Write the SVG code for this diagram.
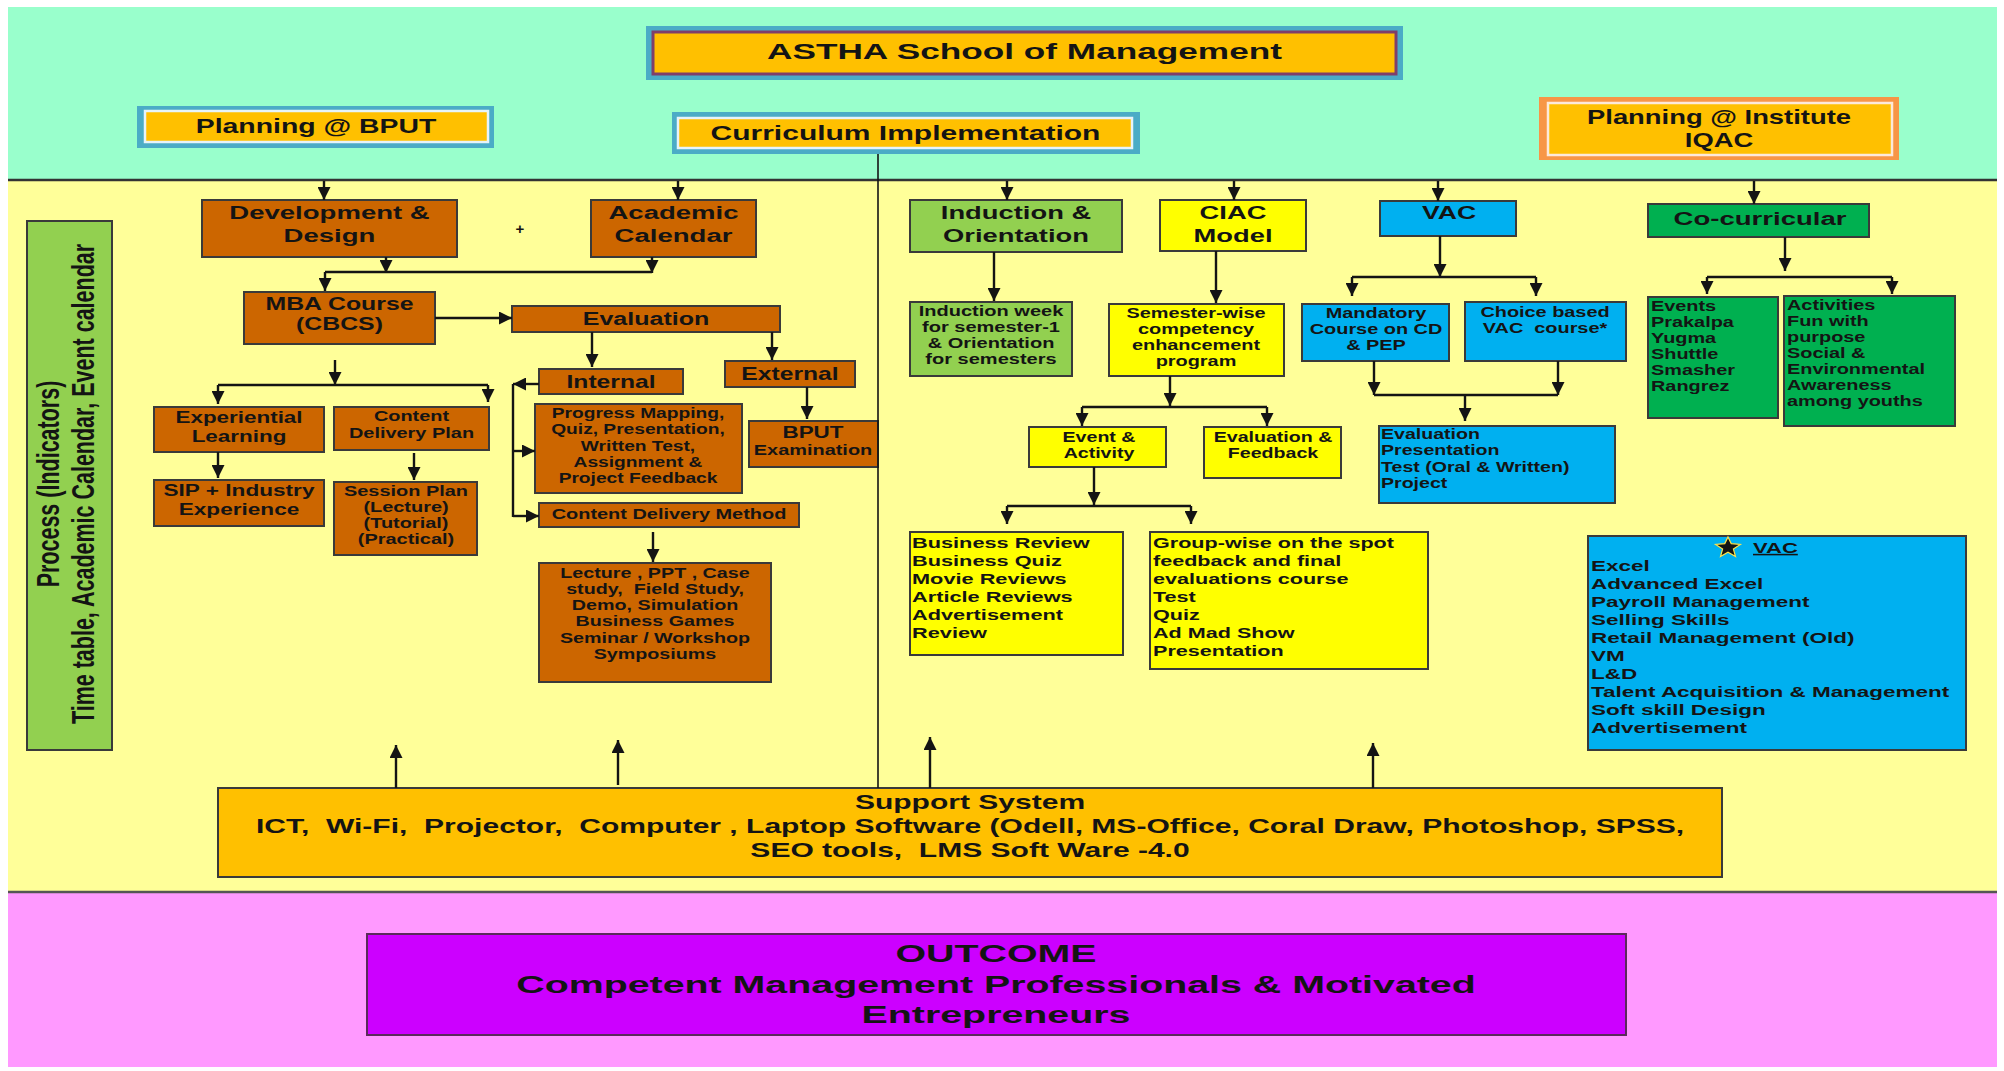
<svg xmlns="http://www.w3.org/2000/svg" width="2004" height="1071" viewBox="0 0 2004 1071">
<defs>
<style>
.t{font-family:"Liberation Sans",Arial,Helvetica,sans-serif;font-weight:bold;fill:#141414}
.bd{stroke:#3a3a3a;stroke-width:2}
.brown{fill:#CC6600}
.org{fill:#FFC000}
.lgr{fill:#92D050}
.yel{fill:#FFFF00}
.blu{fill:#00B0F0}
.dgr{fill:#00B050}
.c{stroke:#141414;stroke-width:2.4;fill:none}
.ca{stroke:#141414;stroke-width:2.4;fill:none;marker-end:url(#ah)}
</style>
<marker id="ah" viewBox="0 0 10 10" refX="10" refY="5" markerWidth="13" markerHeight="13" markerUnits="userSpaceOnUse" orient="auto">
<path d="M0,0 L10,5 L0,10 z" fill="#141414"/>
</marker>
</defs>
<rect x="0" y="0" width="2004" height="1071" fill="#ffffff"/>
<g id="bands">
<rect x="8" y="7" width="1989" height="173" fill="#99FFCC"/>
<rect x="8" y="180" width="1989" height="712" fill="#FFFF99"/>
<rect x="8" y="892" width="1989" height="175" fill="#FF99FF"/>
<line x1="8" y1="180" x2="1997" y2="180" stroke="#333" stroke-width="2.5"/>
<line x1="8" y1="892" x2="1997" y2="892" stroke="#555" stroke-width="2.5"/>
</g>

<g id="title">
<rect x="646" y="26" width="757" height="54" fill="#4BACC6"/>
<rect x="653" y="32" width="743" height="42" fill="#FFC000" stroke="#7F3F6A" stroke-width="3"/>
<text class="t" font-size="22" text-anchor="middle" transform="translate(1024.5 0) scale(1.6 1)"><tspan x="0" y="59">ASTHA School of Management</tspan></text>
</g>
<g id="planning-bput">
<rect x="137" y="106" width="357" height="42" fill="#4BACC6"/>
<rect x="145" y="111" width="343" height="31" fill="#FFC000" stroke="#E6F4FA" stroke-width="2.5"/>
<text class="t" font-size="20" text-anchor="middle" transform="translate(316 0) scale(1.42 1)"><tspan x="0" y="133">Planning @ BPUT</tspan></text>
</g>
<g id="curriculum">
<rect x="672" y="112" width="468" height="42" fill="#4BACC6"/>
<rect x="678" y="118" width="454" height="30" fill="#FFC000" stroke="#E6F4FA" stroke-width="2.5"/>
<text class="t" font-size="20" text-anchor="middle" transform="translate(905.5 0) scale(1.5 1)"><tspan x="0" y="140">Curriculum Implementation</tspan></text>
</g>
<g id="planning-institute">
<rect x="1539" y="97" width="360" height="63" fill="#F79646"/>
<rect x="1548" y="103" width="344" height="52" fill="#FFC000" stroke="#FDE9D9" stroke-width="2.5"/>
<text class="t" font-size="20" text-anchor="middle" transform="translate(1719 0) scale(1.37 1)"><tspan x="0" y="124">Planning @ Institute</tspan><tspan x="0" y="147">IQAC</tspan></text>
</g>

<g id="process">
<rect x="27" y="221" width="85" height="529" class="lgr bd"/>
<text class="t" font-size="21.5" text-anchor="middle" transform="translate(59 484) scale(1.47 1) rotate(-90)">Process (Indicators)</text>
<text class="t" font-size="21.5" text-anchor="middle" transform="translate(94 484) scale(1.47 1) rotate(-90)">Time table, Academic Calendar, Event calendar</text>
</g>

<g id="dev-design">
<rect x="202" y="200" width="255" height="57" class="brown bd"/>
<text class="t" font-size="19" text-anchor="middle" transform="translate(329.5 0) scale(1.45 1)"><tspan x="0" y="219">Development &amp;</tspan><tspan x="0" y="242">Design</tspan></text>
</g>
<g id="plus">
<text class="t" font-size="15" text-anchor="middle" x="520" y="234">+</text>
</g>
<g id="academic-calendar">
<rect x="591" y="200" width="165" height="57" class="brown bd"/>
<text class="t" font-size="19" text-anchor="middle" transform="translate(673.5 0) scale(1.45 1)"><tspan x="0" y="219">Academic</tspan><tspan x="0" y="242">Calendar</tspan></text>
</g>
<g id="mba">
<rect x="244" y="292" width="191" height="52" class="brown bd"/>
<text class="t" font-size="18" text-anchor="middle" transform="translate(339.5 0) scale(1.38 1)"><tspan x="0" y="310">MBA Course</tspan><tspan x="0" y="330">(CBCS)</tspan></text>
</g>
<g id="evaluation">
<rect x="512" y="306" width="268" height="26" class="brown bd"/>
<text class="t" font-size="18" text-anchor="middle" transform="translate(646 0) scale(1.39 1)"><tspan x="0" y="325">Evaluation</tspan></text>
</g>
<g id="internal">
<rect x="539" y="369" width="144" height="25" class="brown bd"/>
<text class="t" font-size="18" text-anchor="middle" transform="translate(611 0) scale(1.37 1)"><tspan x="0" y="388">Internal</tspan></text>
</g>
<g id="external">
<rect x="725" y="361" width="130" height="26" class="brown bd"/>
<text class="t" font-size="18" text-anchor="middle" transform="translate(790 0) scale(1.37 1)"><tspan x="0" y="380">External</tspan></text>
</g>
<g id="bput-exam">
<rect x="749" y="421" width="129" height="46" class="brown bd"/>
<text class="t" font-size="17" text-anchor="middle" transform="translate(813 0) scale(1.32 1)"><tspan x="0" y="438">BPUT</tspan></text>
<text class="t" font-size="15" text-anchor="middle" transform="translate(813 0) scale(1.33 1)"><tspan x="0" y="455">Examination</tspan></text>
</g>
<g id="experiential">
<rect x="154" y="407" width="170" height="45" class="brown bd"/>
<text class="t" font-size="17" text-anchor="middle" transform="translate(239 0) scale(1.32 1)"><tspan x="0" y="423">Experiential</tspan><tspan x="0" y="442">Learning</tspan></text>
</g>
<g id="content-plan">
<rect x="334" y="407" width="155" height="43" class="brown bd"/>
<text class="t" font-size="15" text-anchor="middle" transform="translate(411.5 0) scale(1.33 1)"><tspan x="0" y="421">Content</tspan><tspan x="0" y="438">Delivery Plan</tspan></text>
</g>
<g id="sip">
<rect x="154" y="480" width="170" height="46" class="brown bd"/>
<text class="t" font-size="17" text-anchor="middle" transform="translate(239 0) scale(1.33 1)"><tspan x="0" y="496">SIP + Industry</tspan><tspan x="0" y="515">Experience</tspan></text>
</g>
<g id="session-plan">
<rect x="334" y="482" width="143" height="73" class="brown bd"/>
<text class="t" font-size="15" text-anchor="middle" transform="translate(406 0) scale(1.33 1)"><tspan x="0" y="496">Session Plan</tspan><tspan x="0" y="512">(Lecture)</tspan><tspan x="0" y="528">(Tutorial)</tspan><tspan x="0" y="544">(Practical)</tspan></text>
</g>
<g id="progress">
<rect x="535" y="404" width="207" height="89" class="brown bd"/>
<text class="t" font-size="14" text-anchor="middle" transform="translate(638 0) scale(1.37 1)"><tspan x="0" y="418">Progress Mapping,</tspan><tspan x="0" y="434">Quiz, Presentation,</tspan><tspan x="0" y="451">Written Test,</tspan><tspan x="0" y="467">Assignment &amp;</tspan><tspan x="0" y="483">Project Feedback</tspan></text>
</g>
<g id="content-method">
<rect x="539" y="503" width="260" height="24" class="brown bd"/>
<text class="t" font-size="15" text-anchor="middle" transform="translate(669 0) scale(1.33 1)"><tspan x="0" y="519">Content Delivery Method</tspan></text>
</g>
<g id="lecture">
<rect x="539" y="563" width="232" height="119" class="brown bd"/>
<text class="t" font-size="14.5" text-anchor="middle" transform="translate(655 0) scale(1.36 1)" xml:space="preserve"><tspan x="0" y="578">Lecture , PPT , Case</tspan><tspan x="0" y="594">study,  Field Study,</tspan><tspan x="0" y="610">Demo, Simulation</tspan><tspan x="0" y="626">Business Games</tspan><tspan x="0" y="643">Seminar / Workshop</tspan><tspan x="0" y="659">Symposiums</tspan></text>
</g>

<g id="induction">
<rect x="910" y="200" width="212" height="52" class="lgr bd"/>
<text class="t" font-size="19" text-anchor="middle" transform="translate(1016 0) scale(1.44 1)"><tspan x="0" y="219">Induction &amp;</tspan><tspan x="0" y="242">Orientation</tspan></text>
</g>
<g id="ciac">
<rect x="1160" y="200" width="146" height="51" class="yel bd"/>
<text class="t" font-size="19" text-anchor="middle" transform="translate(1233 0) scale(1.44 1)"><tspan x="0" y="219">CIAC</tspan><tspan x="0" y="242">Model</tspan></text>
</g>
<g id="vac">
<rect x="1380" y="201" width="136" height="35" class="blu bd"/>
<text class="t" font-size="19" text-anchor="middle" transform="translate(1449 0) scale(1.4 1)"><tspan x="0" y="219">VAC</tspan></text>
</g>
<g id="co-curricular">
<rect x="1648" y="204" width="221" height="33" class="dgr bd"/>
<text class="t" font-size="19" text-anchor="middle" transform="translate(1760 0) scale(1.45 1)"><tspan x="0" y="225">Co-curricular</tspan></text>
</g>
<g id="induction-week">
<rect x="910" y="302" width="162" height="74" class="lgr bd"/>
<text class="t" font-size="14" text-anchor="middle" transform="translate(991 0) scale(1.43 1)"><tspan x="0" y="316">Induction week</tspan><tspan x="0" y="332">for semester-1</tspan><tspan x="0" y="348">&amp; Orientation</tspan><tspan x="0" y="364">for semesters</tspan></text>
</g>
<g id="semester-wise">
<rect x="1109" y="304" width="175" height="72" class="yel bd"/>
<text class="t" font-size="14" text-anchor="middle" transform="translate(1196 0) scale(1.42 1)"><tspan x="0" y="318">Semester-wise</tspan><tspan x="0" y="334">competency</tspan><tspan x="0" y="350">enhancement</tspan><tspan x="0" y="366">program</tspan></text>
</g>
<g id="mandatory">
<rect x="1302" y="304" width="147" height="57" class="blu bd"/>
<text class="t" font-size="14" text-anchor="middle" transform="translate(1376 0) scale(1.42 1)"><tspan x="0" y="318">Mandatory</tspan><tspan x="0" y="334">Course on CD</tspan><tspan x="0" y="350">&amp; PEP</tspan></text>
</g>
<g id="choice">
<rect x="1465" y="302" width="161" height="59" class="blu bd"/>
<text class="t" font-size="14" text-anchor="middle" transform="translate(1545 0) scale(1.42 1)" xml:space="preserve"><tspan x="0" y="317">Choice based</tspan><tspan x="0" y="333">VAC  course*</tspan></text>
</g>
<g id="vac-evaluation">
<rect x="1379" y="426" width="236" height="77" class="blu bd"/>
<text class="t" font-size="14.5" transform="translate(1381 0) scale(1.35 1)"><tspan x="0" y="439">Evaluation</tspan><tspan x="0" y="455">Presentation</tspan><tspan x="0" y="472">Test (Oral &amp; Written)</tspan><tspan x="0" y="488">Project</tspan></text>
</g>
<g id="events">
<rect x="1648" y="297" width="130" height="121" class="dgr bd"/>
<text class="t" font-size="14" transform="translate(1651 0) scale(1.42 1)"><tspan x="0" y="311">Events</tspan><tspan x="0" y="327">Prakalpa</tspan><tspan x="0" y="343">Yugma</tspan><tspan x="0" y="359">Shuttle</tspan><tspan x="0" y="375">Smasher</tspan><tspan x="0" y="391">Rangrez</tspan></text>
</g>
<g id="activities">
<rect x="1784" y="296" width="171" height="130" class="dgr bd"/>
<text class="t" font-size="14" transform="translate(1787 0) scale(1.42 1)"><tspan x="0" y="310">Activities</tspan><tspan x="0" y="326">Fun with</tspan><tspan x="0" y="342">purpose</tspan><tspan x="0" y="358">Social &amp;</tspan><tspan x="0" y="374">Environmental</tspan><tspan x="0" y="390">Awareness</tspan><tspan x="0" y="406">among youths</tspan></text>
</g>
<g id="event-activity">
<rect x="1029" y="427" width="137" height="40" class="yel bd"/>
<text class="t" font-size="14" text-anchor="middle" transform="translate(1099 0) scale(1.4 1)"><tspan x="0" y="442">Event &amp;</tspan><tspan x="0" y="458">Activity</tspan></text>
</g>
<g id="eval-feedback">
<rect x="1204" y="427" width="137" height="51" class="yel bd"/>
<text class="t" font-size="14" text-anchor="middle" transform="translate(1273 0) scale(1.4 1)"><tspan x="0" y="442">Evaluation &amp;</tspan><tspan x="0" y="458">Feedback</tspan></text>
</g>
<g id="business-review">
<rect x="910" y="532" width="213" height="123" class="yel bd"/>
<text class="t" font-size="15" transform="translate(912 0) scale(1.45 1)"><tspan x="0" y="548">Business Review</tspan><tspan x="0" y="566">Business Quiz</tspan><tspan x="0" y="584">Movie Reviews</tspan><tspan x="0" y="602">Article Reviews</tspan><tspan x="0" y="620">Advertisement</tspan><tspan x="0" y="638">Review</tspan></text>
</g>
<g id="group-wise">
<rect x="1150" y="532" width="278" height="137" class="yel bd"/>
<text class="t" font-size="15" transform="translate(1153 0) scale(1.44 1)"><tspan x="0" y="548">Group-wise on the spot</tspan><tspan x="0" y="566">feedback and final</tspan><tspan x="0" y="584">evaluations course</tspan><tspan x="0" y="602">Test</tspan><tspan x="0" y="620">Quiz</tspan><tspan x="0" y="638">Ad Mad Show</tspan><tspan x="0" y="656">Presentation</tspan></text>
</g>
<g id="vac-list">
<rect x="1588" y="536" width="378" height="214" class="blu bd"/>
<polygon points="1728,537 1731.2,543.6 1740.4,544.4 1733.4,549.1 1735.5,556.5 1728,552.2 1720.5,556.5 1722.6,549.1 1715.6,544.4 1724.8,543.6" fill="#141414" stroke="#FFE34D" stroke-width="1.2"/>
<text class="t" font-size="15.5" text-decoration="underline" transform="translate(1753 0) scale(1.42 1)"><tspan x="0" y="553">VAC</tspan></text>
<text class="t" font-size="15.5" transform="translate(1591 0) scale(1.45 1)"><tspan x="0" y="571">Excel</tspan><tspan x="0" y="589">Advanced Excel</tspan><tspan x="0" y="607">Payroll Management</tspan><tspan x="0" y="625">Selling Skills</tspan><tspan x="0" y="643">Retail Management (Old)</tspan><tspan x="0" y="661">VM</tspan><tspan x="0" y="679">L&amp;D</tspan><tspan x="0" y="697">Talent Acquisition &amp; Management</tspan><tspan x="0" y="715">Soft skill Design</tspan><tspan x="0" y="733">Advertisement</tspan></text>
</g>

<g id="support">
<rect x="218" y="788" width="1504" height="89" class="org bd"/>
<text class="t" font-size="21" text-anchor="middle" transform="translate(970 0) scale(1.43 1)" xml:space="preserve"><tspan x="0" y="809">Support System</tspan><tspan x="0" y="833">ICT,  Wi-Fi,  Projector,  Computer , Laptop Software (Odell, MS-Office, Coral Draw, Photoshop, SPSS,</tspan><tspan x="0" y="857">SEO tools,  LMS Soft Ware -4.0</tspan></text>
</g>

<g id="outcome">
<rect x="367" y="934" width="1259" height="101" fill="#CC00FF" stroke="#5a2a5a" stroke-width="2"/>
<text class="t" font-size="24" text-anchor="middle" transform="translate(996 0) scale(1.64 1)"><tspan x="0" y="962">OUTCOME</tspan><tspan x="0" y="993">Competent Management Professionals &amp; Motivated</tspan><tspan x="0" y="1023">Entrepreneurs</tspan></text>
</g>

<g id="connectors">
<line x1="878" y1="154" x2="878" y2="788" stroke="#141414" stroke-width="1.6"/>
<path class="ca" d="M324,181 V200"/>
<path class="ca" d="M678,181 V200"/>
<path class="ca" d="M1007,181 V200"/>
<path class="ca" d="M1234,181 V200"/>
<path class="ca" d="M1438,181 V201"/>
<path class="ca" d="M1754,181 V204"/>
<path class="ca" d="M386,257 V273"/>
<path class="ca" d="M652,257 V273"/>
<path class="c" d="M325,272 H652"/>
<path class="ca" d="M325,272 V291"/>
<path class="ca" d="M435,318 H512"/>
<path class="ca" d="M335,360 V385"/>
<path class="c" d="M218,385 H488"/>
<path class="ca" d="M218,385 V404"/>
<path class="ca" d="M488,385 V402"/>
<path class="ca" d="M218,452 V478"/>
<path class="ca" d="M414,453 V480"/>
<path class="ca" d="M592,332 V367"/>
<path class="ca" d="M772,332 V360"/>
<path class="ca" d="M807,387 V419"/>
<path class="ca" d="M539,384 H513"/>
<path class="c" d="M513,384 V517"/>
<path class="ca" d="M513,451 H535"/>
<path class="ca" d="M513,516 H539"/>
<path class="ca" d="M653,532 V562"/>
<path class="ca" d="M994,252 V301"/>
<path class="ca" d="M1216,251 V303"/>
<path class="ca" d="M1170,376 V406"/>
<path class="c" d="M1082,407 H1267"/>
<path class="ca" d="M1082,407 V426"/>
<path class="ca" d="M1267,407 V426"/>
<path class="ca" d="M1094,467 V505"/>
<path class="c" d="M1007,506 H1191"/>
<path class="ca" d="M1007,506 V524"/>
<path class="ca" d="M1191,506 V524"/>
<path class="ca" d="M1440,236 V277"/>
<path class="c" d="M1352,277 H1536"/>
<path class="ca" d="M1352,277 V296"/>
<path class="ca" d="M1536,277 V296"/>
<path class="ca" d="M1374,361 V395"/>
<path class="ca" d="M1558,361 V395"/>
<path class="c" d="M1374,395 H1558"/>
<path class="ca" d="M1465,395 V421"/>
<path class="ca" d="M1785,237 V271"/>
<path class="c" d="M1707,277 H1892"/>
<path class="ca" d="M1707,277 V294"/>
<path class="ca" d="M1892,277 V294"/>
<path class="ca" d="M396,788 V745"/>
<path class="ca" d="M618,785 V740"/>
<path class="ca" d="M930,788 V737"/>
<path class="ca" d="M1373,788 V743"/>
</g>
</svg>
